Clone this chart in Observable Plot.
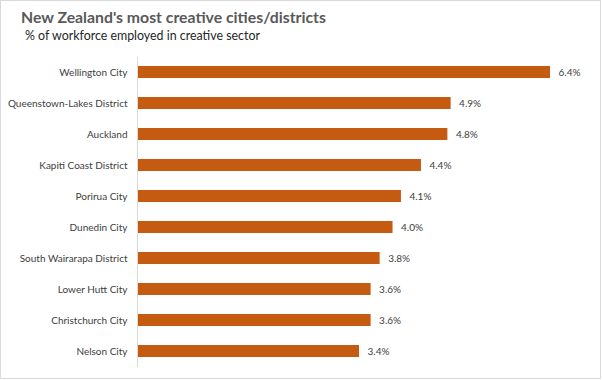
<!DOCTYPE html>
<html>
<head>
<meta charset="utf-8">
<script src="https://cdn.jsdelivr.net/npm/d3@7"></script>
<script src="https://cdn.jsdelivr.net/npm/@observablehq/plot@0.6"></script>
<style>
  body { margin: 0; background: #fff; }
  #wrap { position: relative; width: 602px; height: 380px; overflow: hidden; font-family: Lato, "Open Sans", sans-serif; }
  #frame { position: absolute; left: 0; top: 0; width: 601px; height: 379px; box-sizing: border-box; border: 1px solid #d9d9d9; pointer-events: none; }
  #title { position: absolute; left: 21px; top: 7px; font-size: 15.8px; font-weight: bold; color: #595959; white-space: nowrap; }
  #subtitle { position: absolute; left: 25px; top: 28px; font-size: 12.4px; color: #262626; white-space: nowrap; }
  #chart { position: absolute; left: 0; top: 0; }
</style>
</head>
<body>
<div id="wrap">
  <div id="chart"></div>
  <div id="title">New Zealand's most creative cities/districts</div>
  <div id="subtitle">% of workforce employed in creative sector</div>
  <div id="frame"></div>
</div>
<script>
const cities = ["Wellington City", "Queenstown-Lakes District", "Auckland", "Kapiti Coast District", "Porirua City", "Dunedin City", "South Wairarapa District", "Lower Hutt City", "Christchurch City", "Nelson City"];
const shares = [6.4, 4.86, 4.81, 4.40, 4.09, 3.96, 3.76, 3.62, 3.62, 3.44];

const data = cities.map((c, i) => ({city: c, value: shares[i]}));

const chart = Plot.plot({
  width: 602,
  height: 380,
  marginLeft: 137,
  marginRight: 52,
  marginTop: 57,
  marginBottom: 13,
  style: {fontFamily: "Lato, 'Open Sans', sans-serif", fontSize: "10px", color: "#404040", background: "transparent"},
  x: {domain: [0, 6.4], axis: null},
  y: {domain: cities, paddingInner: 0.61, paddingOuter: 0.3, label: null, axis: null},
  marks: [
    Plot.barX(data, {x: "value", y: "city", fill: "#C55A11"}),
    Plot.ruleX([0], {stroke: "#d9d9d9", strokeWidth: 1}),
    Plot.text(data, {x: "value", y: "city", text: d => d.value.toFixed(1) + "%", textAnchor: "start", dx: 8, fill: "#404040", fontSize: 10}),
    Plot.axisY({tickSize: 0, tickPadding: 10, label: null, fontSize: 10, color: "#404040"})
  ]
});
document.getElementById("chart").appendChild(chart);
</script>
</body>
</html>
